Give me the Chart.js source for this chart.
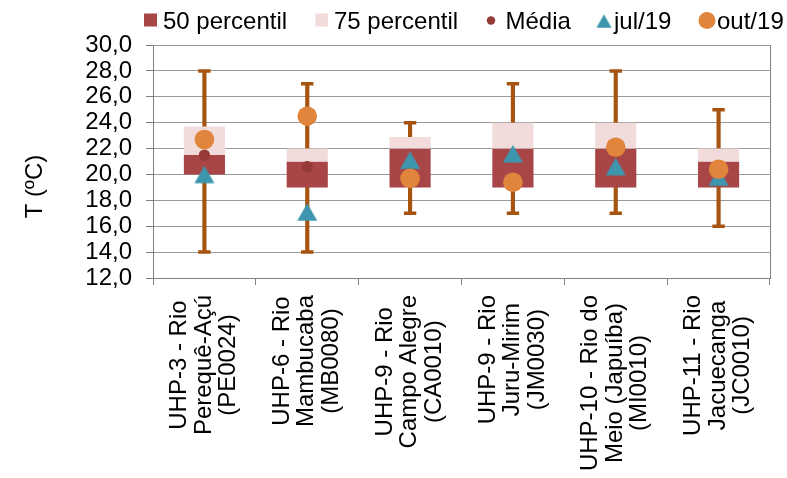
<!DOCTYPE html>
<html>
<head>
<meta charset="utf-8">
<script src="https://cdn.jsdelivr.net/npm/chart.js@4.4.1/dist/chart.umd.min.js"></script>
<style>
  html, body { margin: 0; padding: 0; background: #ffffff; }
  #wrap { width: 787px; height: 478px; }
</style>
</head>
<body>
<div id="wrap"><canvas id="c" width="787" height="478"></canvas></div>
<script>
// Monitoring stations (one multi-line label each)
const categories = [
  ['UHP-3 - Rio', 'Perequê-Açú', '(PE0024)'],
  ['UHP-6 - Rio', 'Mambucaba', '(MB0080)'],
  ['UHP-9 - Rio', 'Campo Alegre', '(CA0010)'],
  ['UHP-9 - Rio', 'Juru-Mirim', '(JM0030)'],
  ['UHP-10 - Rio do', 'Meio (Japuíba)', '(MI0010)'],
  ['UHP-11 - Rio', 'Jacuecanga', '(JC0010)']
];

// Water temperature statistics (ºC)
const minimo      = [14, 14, 17, 17, 17, 16];
const maximo      = [28, 27, 24, 27, 28, 25];
const percentil25 = [20, 19, 19, 19, 19, 19];
const percentil50 = [21.5, 21, 22, 22, 22, 21];
const percentil75 = [23.7, 22, 22.9, 24, 24, 22];
const media       = [21.5, 20.6, 20.2, 19.6, 21.9, 20.3];
const jul19       = [20.0, 17.1, 21.1, 21.6, 20.6, 19.8];
const out19       = [22.7, 24.5, 19.7, 19.4, 22.1, 20.4];

// Y axis range and tick spacing
const yMin = 12, yMax = 30, yStep = 2;

const FONT = "'Liberation Sans', Arial, Helvetica, sans-serif";
const COL = {
  p50: '#A84547',
  p75: '#F2DCDB',
  media: '#963A38',
  jul: '#3D96AE',
  out: '#E0853B',
  whisker: '#A65410',
  grid: '#9A9A9A',
  axis: '#7F7F7F'
};

Chart.defaults.font.family = FONT;
Chart.defaults.color = '#000000';

// Triangle marker centred on its bounding box
function triangleMarker(w, h, color) {
  const c = document.createElement('canvas');
  c.width = Math.ceil(w) + 2;
  c.height = Math.ceil(h) + 2;
  const g = c.getContext('2d');
  const ox = (c.width - w) / 2, oy = (c.height - h) / 2;
  g.fillStyle = color;
  g.beginPath();
  g.moveTo(ox, oy + h);
  g.lineTo(ox + w / 2, oy);
  g.lineTo(ox + w, oy + h);
  g.closePath();
  g.fill();
  return c;
}
const triPoint = triangleMarker(20, 17.5, COL.jul);

const toRange = (a, b) => a.map((v, i) => [v, b[i]]);

// Legend, rotated category labels, axis title and plot frame
const decor = {
  id: 'decor',
  beforeDatasetsDraw(chart) {
    const { ctx, chartArea } = chart;
    ctx.save();
    ctx.strokeStyle = COL.axis;
    ctx.lineWidth = 1;
    ctx.beginPath();
    ctx.moveTo(chartArea.right + 0.5, chartArea.top);
    ctx.lineTo(chartArea.right + 0.5, chartArea.bottom);
    ctx.stroke();
    ctx.restore();
  },
  afterDraw(chart) {
    const { ctx, chartArea, scales: { x } } = chart;
    ctx.save();
    ctx.fillStyle = '#000000';
    ctx.font = '24px ' + FONT;

    // category labels: block starts under the axis, lines centred within it
    chart.data.labels.forEach((lines, i) => {
      const cx = x.getPixelForValue(i);
      const widest = Math.max(...lines.map(l => ctx.measureText(l).width));
      const midY = chartArea.bottom + 17 + widest / 2;
      lines.forEach((line, j) => {
        const lx = cx + (j - (lines.length - 1) / 2) * 24.5 - 2.5;
        ctx.save();
        ctx.translate(lx, midY);
        ctx.rotate(-Math.PI / 2);
        ctx.textAlign = 'center';
        ctx.textBaseline = 'alphabetic';
        ctx.fillText(line, 0, 8.6);
        ctx.restore();
      });
    });

    // y axis title
    ctx.save();
    ctx.translate(35, 186.5);
    ctx.rotate(-Math.PI / 2);
    ctx.textAlign = 'center';
    ctx.textBaseline = 'middle';
    ctx.fillText('T (ºC)', 0, 0);
    ctx.restore();

    // legend
    const ly = 20;
    const items = [
      { text: '50 percentil', mx: 150.5, tx: 163, draw: () => { ctx.fillStyle = COL.p50; ctx.fillRect(144, ly - 6.5, 13, 13); } },
      { text: '75 percentil', mx: 321.5, tx: 334, draw: () => { ctx.fillStyle = COL.p75; ctx.fillRect(315.5, ly - 6.5, 12.5, 13); } },
      { text: 'Média', mx: 491, tx: 505.5, draw: () => { ctx.fillStyle = COL.media; ctx.beginPath(); ctx.arc(491, ly + 0.5, 4.2, 0, Math.PI * 2); ctx.fill(); } },
      { text: 'jul/19', mx: 604, tx: 614, draw: () => { const t = triangleMarker(15, 13.5, COL.jul); ctx.drawImage(t, 604 - t.width / 2, ly + 1 - t.height / 2); } },
      { text: 'out/19', mx: 707, tx: 717, draw: () => { ctx.fillStyle = COL.out; ctx.beginPath(); ctx.arc(707, ly + 0.5, 8.5, 0, Math.PI * 2); ctx.fill(); } }
    ];
    items.forEach(it => {
      it.draw();
      ctx.fillStyle = '#000000';
      ctx.textAlign = 'left';
      ctx.textBaseline = 'alphabetic';
      ctx.fillText(it.text, it.tx, 28.5);
    });
    ctx.restore();
  }
};

new Chart(document.getElementById('c'), {
  type: 'bar',
  data: {
    labels: categories,
    datasets: [
      {
        type: 'line', label: 'out/19', data: out19, order: 0,
        showLine: false, pointStyle: 'circle', pointRadius: 9.8,
        pointBackgroundColor: COL.out, pointBorderWidth: 0, borderColor: COL.out
      },
      {
        type: 'line', label: 'jul/19', data: jul19, order: 1,
        showLine: false, pointStyle: triPoint, pointRadius: 10,
        pointBackgroundColor: COL.jul, pointBorderWidth: 0, borderColor: COL.jul
      },
      {
        type: 'line', label: 'Média', data: media, order: 2,
        showLine: false, pointStyle: 'circle', pointRadius: 5.6,
        pointBackgroundColor: COL.media, pointBorderWidth: 0, borderColor: COL.media
      },
      {
        type: 'line', label: 'máximo', data: maximo, order: 3,
        showLine: false, pointStyle: 'line', pointRadius: 6.2,
        pointBorderColor: COL.whisker, pointBorderWidth: 3.5, borderColor: COL.whisker
      },
      {
        type: 'line', label: 'mínimo', data: minimo, order: 3,
        showLine: false, pointStyle: 'line', pointRadius: 6.2,
        pointBorderColor: COL.whisker, pointBorderWidth: 3.5, borderColor: COL.whisker
      },
      {
        label: '75 percentil', data: toRange(percentil50, percentil75), order: 4,
        backgroundColor: COL.p75, borderWidth: 0, grouped: false,
        categoryPercentage: 1, barPercentage: 0.4
      },
      {
        label: '50 percentil', data: toRange(percentil25, percentil50), order: 5,
        backgroundColor: COL.p50, borderWidth: 0, grouped: false,
        categoryPercentage: 1, barPercentage: 0.4
      },
      {
        label: 'amplitude', data: toRange(minimo, maximo), order: 6,
        backgroundColor: COL.whisker, borderWidth: 0, grouped: false,
        barThickness: 3.5
      }
    ]
  },
  options: {
    responsive: false,
    animation: false,
    events: [],
    layout: { padding: { top: 45, right: 17, bottom: 0, left: 0 } },
    plugins: {
      legend: { display: false },
      tooltip: { enabled: false }
    },
    scales: {
      x: {
        offset: true,
        grid: {
          offset: true, drawOnChartArea: false, drawTicks: true,
          tickLength: 7, tickColor: COL.axis, tickWidth: 1
        },
        border: { display: true, color: COL.axis, width: 1 },
        ticks: { display: false },
        afterFit: (s) => { s.height = 200; }
      },
      y: {
        min: yMin, max: yMax,
        grid: {
          color: COL.grid, lineWidth: 1, drawTicks: true,
          tickLength: 7, tickColor: COL.axis
        },
        border: { display: true, color: COL.axis, width: 1 },
        ticks: {
          stepSize: yStep, autoSkip: false, padding: 14,
          font: { size: 24, lineHeight: 1 }, color: '#000000',
          callback: (v) => Number(v).toFixed(1).replace('.', ',')
        },
        afterFit: (s) => { s.width = 153; }
      }
    }
  },
  plugins: [decor]
});
</script>
</body>
</html>
